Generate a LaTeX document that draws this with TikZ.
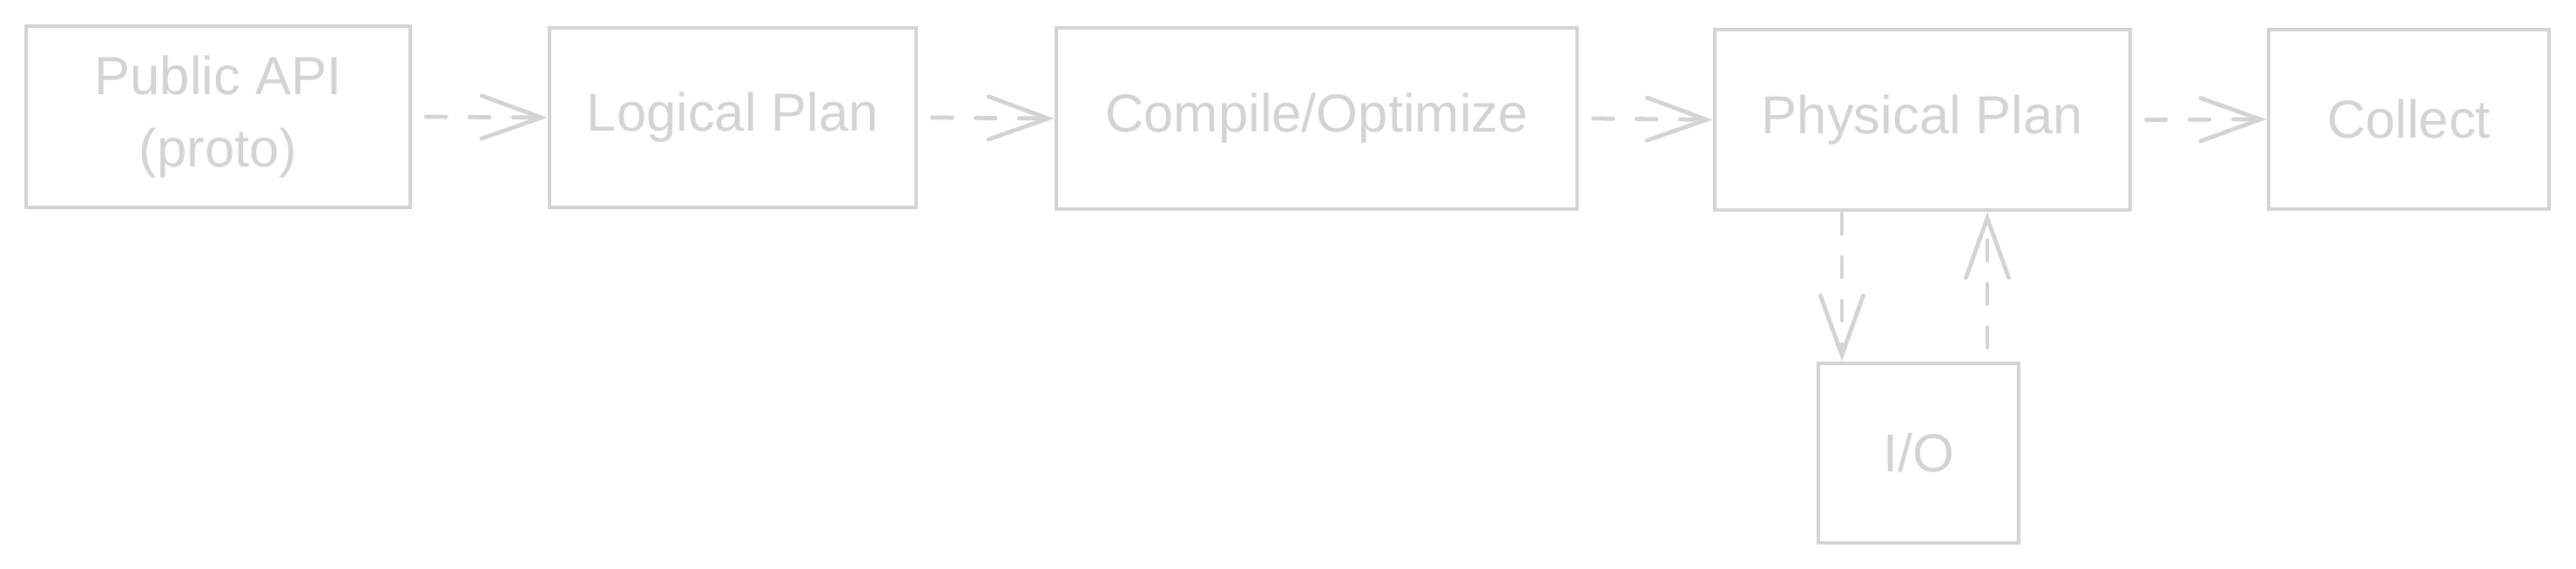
\documentclass[tikz,border=0pt]{standalone}
\usepackage{fontspec}
\setmainfont{Liberation Sans}
\usepackage{xcolor}
\usetikzlibrary{arrows.meta,positioning,calc}
\definecolor{sketch}{RGB}{211,211,211}
\tikzset{
  stage/.style={draw=sketch, line width=1.35pt, text=sketch, align=center,
    inner sep=0pt, font=\fontsize{17.5}{23.5}\selectfont},
  flow/.style={draw=sketch, line width=1.35pt, line cap=round,
    dash pattern=on 6.5pt off 7.7pt,
    -{Straight Barb[length=19.5pt, width=14pt, line cap=round]}}
}
\begin{document}
\begin{tikzpicture}
  \useasboundingbox (0,0) rectangle (29.58,6.53);
  % Pipeline stages
  \node[stage, minimum width=4.41cm, minimum height=2.08cm] (api) at (2.505,5.19) {Public API\\(proto)};
  \node[stage, minimum width=4.21cm, minimum height=2.06cm] (logical) at (8.415,5.18) {Logical Plan};
  \node[stage, minimum width=5.98cm, minimum height=2.08cm] (compile) at (15.12,5.17) {Compile/Optimize};
  \node[stage, minimum width=4.77cm, minimum height=2.07cm] (physical) at (22.075,5.155) {Physical Plan};
  \node[stage, minimum width=3.22cm, minimum height=2.06cm] (collect) at (27.66,5.16) {Collect};
  % Side box
  \node[stage, minimum width=2.30cm, minimum height=2.06cm] (io) at (22.03,1.33) {I/O};

  % Main flow
  \draw[flow] ([xshift=0.16cm]api.east) -- (logical.west);
  \draw[flow] ([xshift=0.16cm]logical.east) -- (compile.west);
  \draw[flow] ([xshift=0.16cm]compile.east) -- (physical.west);
  \draw[flow] ([xshift=0.16cm]physical.east) -- (collect.west);

  % Read/write with I/O
  \coordinate (down) at ([xshift=-0.88cm]io.north);
  \coordinate (up) at ([xshift=0.79cm]io.north);
  \draw[flow] ([yshift=-0.02cm]down |- physical.south) -- (down);
  \draw[flow] ([yshift=0.16cm]up) -- (up |- physical.south);
\end{tikzpicture}
\end{document}
